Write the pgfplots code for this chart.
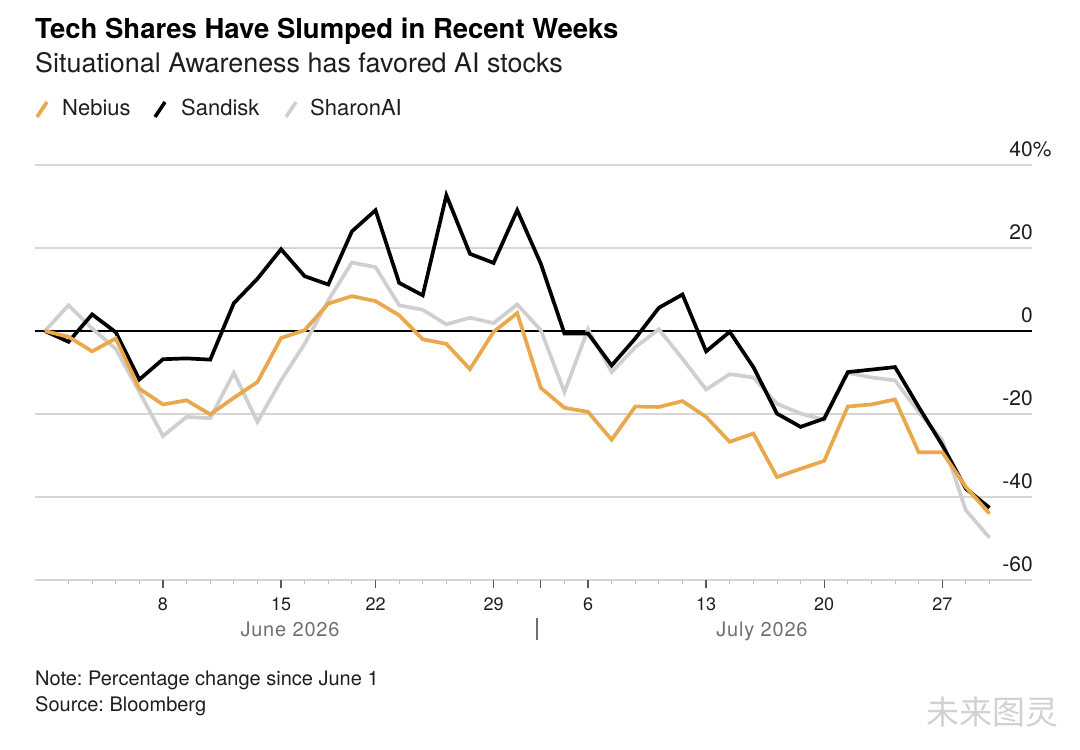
\documentclass[border=0pt]{standalone}
\usepackage{pgfplots}
\pgfplotsset{compat=1.18}
\usepackage{fontspec}
\setmainfont{TeX Gyre Heros}
\newfontfamily\cjk{Noto Sans CJK SC}
\definecolor{neb}{HTML}{E8A84B}
\definecolor{shar}{HTML}{CFCFCF}
\definecolor{gridc}{HTML}{D6D6D6}
\definecolor{txt}{HTML}{1E1E1E}
\definecolor{mon}{HTML}{707070}
\frenchspacing

\pgfplotstableread{
i neb san sha
0 0 0 0
1 -1.4 -2.6 6.2
2 -4.9 4.0 0.6
3 -1.8 -0.3 -4.3
4 -13.9 -11.7 -14.7
5 -17.7 -6.8 -25.3
6 -16.7 -6.6 -20.7
7 -20.1 -6.9 -21.0
8 -16.1 6.7 -10.1
9 -12.3 12.6 -21.9
10 -1.7 19.7 -11.9
11 0.2 13.2 -3.1
12 6.6 11.2 7.4
13 8.4 24.0 16.5
14 7.2 29.1 15.4
15 3.8 11.6 6.2
16 -2.0 8.6 5.1
17 -3.1 32.7 1.6
18 -9.2 18.6 3.2
19 -0.2 16.4 1.9
20 4.3 29.1 6.4
21 -13.7 16.2 0.2
22 -18.5 -0.6 -14.7
23 -19.5 -0.6 0.4
24 -26.2 -8.3 -9.9
25 -18.2 -1.8 -3.9
26 -18.3 5.6 0.4
27 -16.9 8.8 -6.7
28 -20.7 -4.9 -14.1
29 -26.7 -0.2 -10.4
30 -24.7 -8.7 -11.2
31 -35.2 -19.9 -17.5
32 -33.2 -23.1 -19.9
33 -31.3 -21.1 -21.4
34 -18.2 -9.9 -10.1
35 -17.7 -9.3 -11.2
36 -16.5 -8.7 -11.9
37 -29.2 -18.3 -19.5
38 -29.2 -27.5 -26.3
39 -37.6 -38.0 -43.2
40 -44.0 -42.6 -49.8
}\datatable

\begin{document}
\begin{tikzpicture}
\path[use as bounding box] (0pt,0pt) rectangle (1080pt,750pt);

% titles
\node[anchor=base west, inner sep=0, text=black, font=\fontsize{27.5}{30}\selectfont\bfseries] at (35pt,711pt) {Tech Shares Have Slumped in Recent Weeks};
\node[anchor=base west, inner sep=0, text=txt, font=\fontsize{26.9}{30}\selectfont] at (35pt,677pt) {Situational Awareness has favored AI stocks};

% legend
\draw[neb, line width=3.6pt] (37pt,633pt) -- (47pt,648pt);
\node[anchor=base west, inner sep=0, text=txt, font=\fontsize{22}{24}\selectfont] at (62pt,634pt) {Nebius};
\draw[black, line width=3.6pt] (155pt,633pt) -- (165pt,648pt);
\node[anchor=base west, inner sep=0, text=txt, font=\fontsize{22}{24}\selectfont] at (181pt,634pt) {Sandisk};
\draw[shar, line width=3.6pt] (286pt,633pt) -- (296pt,648pt);
\node[anchor=base west, inner sep=0, text=txt, font=\fontsize{22}{24}\selectfont] at (310pt,634pt) {SharonAI};

\begin{axis}[
  at={(35pt,170pt)}, anchor=south west,
  scale only axis, width=997pt, height=415pt,
  xmin=-0.42, xmax=41.8, ymin=-60, ymax=40,
  axis line style={draw=none},
  ymajorgrids=true,
  grid style={gridc, line width=1.3pt},
  ytick={-60,-40,-20,20,40},
  yticklabels={\mbox{-60},\mbox{-40},\mbox{-20},\mbox{20},\mbox{40\rlap{\%}}},
  extra y ticks={0},
  extra y tick labels={\mbox{0}},
  extra y tick style={grid style={black, line width=1.3pt}},
  yticklabel pos=right,
  ytick style={draw=none},
  yticklabel style={anchor=south east, inner sep=0pt, xshift=-7pt, yshift=8pt, text=txt, font=\fontsize{21}{21}\selectfont},
  xtick pos=bottom,
  tick align=outside,
  xtick={5,10,14,19,23,28,33,38},
  xticklabels={\mbox{8},\mbox{15},\mbox{22},\mbox{29},\mbox{6},\mbox{13},\mbox{20},\mbox{27}},
  extra x ticks={21},
  extra x tick labels={},
  minor xtick={1,2,3,4,6,7,8,9,11,12,13,15,16,17,18,20,22,24,25,26,27,29,30,31,32,34,35,36,37,39,40},
  major tick length=8pt,
  minor tick length=4pt,
  major x tick style={draw=black!65, line width=1.3pt},
  minor x tick style={draw=black!25, line width=0.9pt},
  xticklabel style={anchor=north, inner sep=0pt, yshift=-10pt, text=txt, font=\fontsize{18}{18}\selectfont},
  clip=false,
]
\addplot[shar, line width=3.7pt, no markers] table[x=i, y=sha] {\datatable};
\addplot[black, line width=3.7pt, no markers] table[x=i, y=san] {\datatable};
\addplot[neb, line width=3.7pt, no markers] table[x=i, y=neb] {\datatable};
\end{axis}

% month labels
\node[anchor=base, inner sep=0, text=mon, font=\fontsize{20}{20}\selectfont\addfontfeature{LetterSpace=4}] at (290pt,113pt) {June 2026};
\node[anchor=base, inner sep=0, text=mon, font=\fontsize{20}{20}\selectfont\addfontfeature{LetterSpace=4}] at (762pt,113pt) {July 2026};
\draw[mon, line width=1.2pt] (537pt,132pt) -- (537pt,110pt);

% notes
\node[anchor=base west, inner sep=0, text=txt, font=\fontsize{20}{22}\selectfont] at (35pt,64pt) {Note: Percentage change since June 1};
\node[anchor=base west, inner sep=0, text=txt, font=\fontsize{20}{22}\selectfont] at (35pt,38pt) {Source: Bloomberg};

% watermark
\node[anchor=center, inner sep=0, text=black!18, font=\cjk\fontsize{33}{35}\selectfont] at (992pt,38pt) {未来图灵};
\end{tikzpicture}
\end{document}
